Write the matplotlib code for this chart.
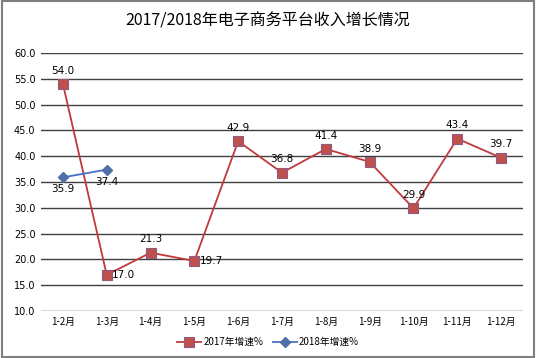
import numpy as np
import matplotlib.pyplot as plt

plt.rcParams['font.family'] = ['Noto Sans CJK SC', 'DejaVu Sans']

months = ['1-2月', '1-3月', '1-4月', '1-5月', '1-6月', '1-7月', '1-8月',
          '1-9月', '1-10月', '1-11月', '1-12月']
growth_2017 = [54.0, 17.0, 21.3, 19.7, 42.9, 36.8, 41.4, 38.9, 29.9, 43.4, 39.7]
growth_2018 = [35.9, 37.4]

# label placement for each point of 2017 series
pos_2017 = ['above', 'right', 'above', 'right', 'above', 'above', 'above',
            'above', 'above', 'above', 'above']

fig = plt.figure(figsize=(5.36, 3.58), dpi=100)
ax = fig.add_axes([41/536, 1 - 311/358, 482/536, 258/358])

x = np.arange(len(months))
ax.plot(x, growth_2017, color='#C0393B', lw=1.3, marker='s', ms=7,
        mfc='#C0504D', mec='#8E5A7E', mew=0.8, label='2017年增速%', zorder=3)
ax.plot(x[:len(growth_2018)], growth_2018, color='#4472C4', lw=1.3, marker='D',
        ms=5, mfc='#4F6FA8', mec='#4F6FA8', label='2018年增速%', zorder=3)

for xi, v, p in zip(x, growth_2017, pos_2017):
    if p == 'above':
        ax.annotate(f'{v:.1f}', (xi, v), xytext=(0, 6), textcoords='offset points',
                    ha='center', va='bottom', fontsize=7.5, family='DejaVu Sans')
    else:
        ax.annotate(f'{v:.1f}', (xi, v), xytext=(4, 0), textcoords='offset points',
                    ha='left', va='center', fontsize=7.5, family='DejaVu Sans')
for xi, v in zip(x, growth_2018):
    ax.annotate(f'{v:.1f}', (xi, v), xytext=(0, -5), textcoords='offset points',
                ha='center', va='top', fontsize=7.5, family='DejaVu Sans')

ax.set_xlim(-0.5, len(months) - 0.5)
ax.set_ylim(10, 60)
ax.set_yticks(np.arange(10, 61, 5))
ax.set_yticklabels([f'{t:.1f}' for t in np.arange(10, 61, 5)], fontsize=7,
                   family='DejaVu Sans')
ax.set_xticks(x)
ax.set_xticklabels(months, fontsize=7)
ax.tick_params(length=0, pad=4)
ax.yaxis.grid(True, color='#404040', lw=1)
ax.set_axisbelow(True)
for s in ax.spines.values():
    s.set_visible(False)

fig.text(0.5, 1 - 21/358, '2017/2018年电子商务平台收入增长情况', ha='center',
         va='center', fontsize=11.5)
fig.legend(loc='center', bbox_to_anchor=(0.5, 1 - 342/358), ncol=2, frameon=False,
           fontsize=7, handlelength=2.5, columnspacing=1, handletextpad=0.2)

fig.patches.append(plt.Rectangle((0.004, 0.004), 0.992, 0.992, transform=fig.transFigure,
                                 fill=False, edgecolor='#808080', lw=1.5))
fig.savefig('out.png', dpi=100)
